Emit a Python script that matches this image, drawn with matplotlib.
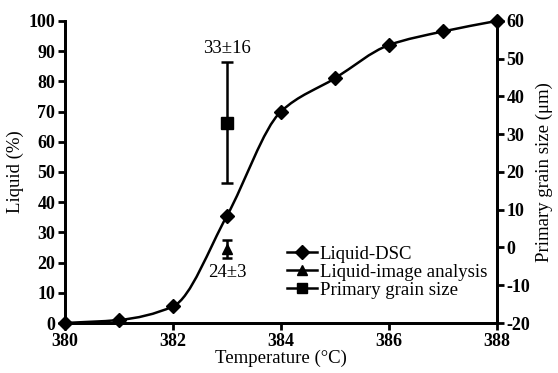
import numpy as np
import matplotlib.pyplot as plt
from matplotlib.path import Path
from matplotlib.patches import PathPatch
from matplotlib.lines import Line2D

temp = [380, 381, 382, 383, 384, 385, 386, 387, 388]
liquid_dsc = [0, 1, 5.5, 35.5, 70, 81, 92, 96.5, 100]

img_temp = [383]
img_liquid = [24.5]
img_err = [3]

grain_temp = [383]
grain_size = [33]
grain_err = [16]

plt.rcParams["font.family"] = ["Liberation Serif", "DejaVu Serif"]
plt.rcParams["axes.unicode_minus"] = False

fig = plt.figure(figsize=(5.58, 3.73), dpi=100)
ax = fig.add_axes([0.1165, 0.134, 0.774, 0.810])
ax2 = ax.twinx()


def pchip_path(x, y):
    # monotone cubic bezier through the points
    x = np.asarray(x, float)
    y = np.asarray(y, float)
    h = np.diff(x)
    d = np.diff(y) / h
    m = np.zeros_like(y)
    for i in range(1, len(y) - 1):
        if d[i - 1] * d[i] > 0:
            w1 = 2 * h[i] + h[i - 1]
            w2 = h[i] + 2 * h[i - 1]
            m[i] = (w1 + w2) / (w1 / d[i - 1] + w2 / d[i])
    m[0] = d[0]
    m[-1] = d[-1]
    verts = [(x[0], y[0])]
    codes = [Path.MOVETO]
    for i in range(len(x) - 1):
        verts += [(x[i] + h[i] / 3, y[i] + m[i] * h[i] / 3),
                  (x[i + 1] - h[i] / 3, y[i + 1] - m[i + 1] * h[i] / 3),
                  (x[i + 1], y[i + 1])]
        codes += [Path.CURVE4] * 3
    return Path(verts, codes)


ax.add_patch(PathPatch(pchip_path(temp, liquid_dsc), fill=False, lw=1.8,
                       edgecolor="black", clip_on=False))
ax.plot(temp, liquid_dsc, ls="none", marker="D", ms=7, color="black", clip_on=False, zorder=5)

ax.errorbar(img_temp, img_liquid, yerr=img_err, fmt="^", ms=7, color="black",
            capsize=3.5, elinewidth=1.8, capthick=1.8)
ax2.errorbar(grain_temp, grain_size, yerr=grain_err, fmt="s", ms=8, color="black",
             capsize=4, elinewidth=1.8, capthick=1.8)

ax.text(383, 91, "33±16", ha="center", va="center", fontsize=13.5)
ax.text(383, 16.8, "24±3", ha="center", va="center", fontsize=13.5)

ax.set_xlim(380, 388)
ax.set_ylim(0, 100)
ax2.set_ylim(-20, 60)
ax.set_xticks([380, 382, 384, 386, 388])
ax.set_yticks(range(0, 101, 10))
ax2.set_yticks(range(-20, 61, 10))

for a in (ax, ax2):
    a.spines["top"].set_visible(False)
    for s in a.spines.values():
        s.set_linewidth(2)
    a.tick_params(direction="out", width=2, length=5, labelsize=13, pad=2)
    for lab in a.get_xticklabels() + a.get_yticklabels():
        lab.set_fontweight("bold")

ax.set_xlabel("Temperature (°C)", fontsize=13.5, labelpad=0)
ax.set_ylabel("Liquid (%)", fontsize=13.5, labelpad=3)
ax2.set_ylabel("Primary grain size (μm)", fontsize=13.5, labelpad=4)

handles = [
    Line2D([], [], color="black", lw=1.8, marker="D", ms=7),
    Line2D([], [], color="black", lw=1.8, marker="^", ms=7),
    Line2D([], [], color="black", lw=1.8, marker="s", ms=7),
]
ax.legend(handles, ["Liquid-DSC", "Liquid-image analysis", "Primary grain size"],
          loc="lower right", bbox_to_anchor=(0.995, 0.055), frameon=False,
          fontsize=13.5, handlelength=1.6, handletextpad=0.15, labelspacing=0.05,
          borderaxespad=0)

fig.savefig("out.png", dpi=100)
